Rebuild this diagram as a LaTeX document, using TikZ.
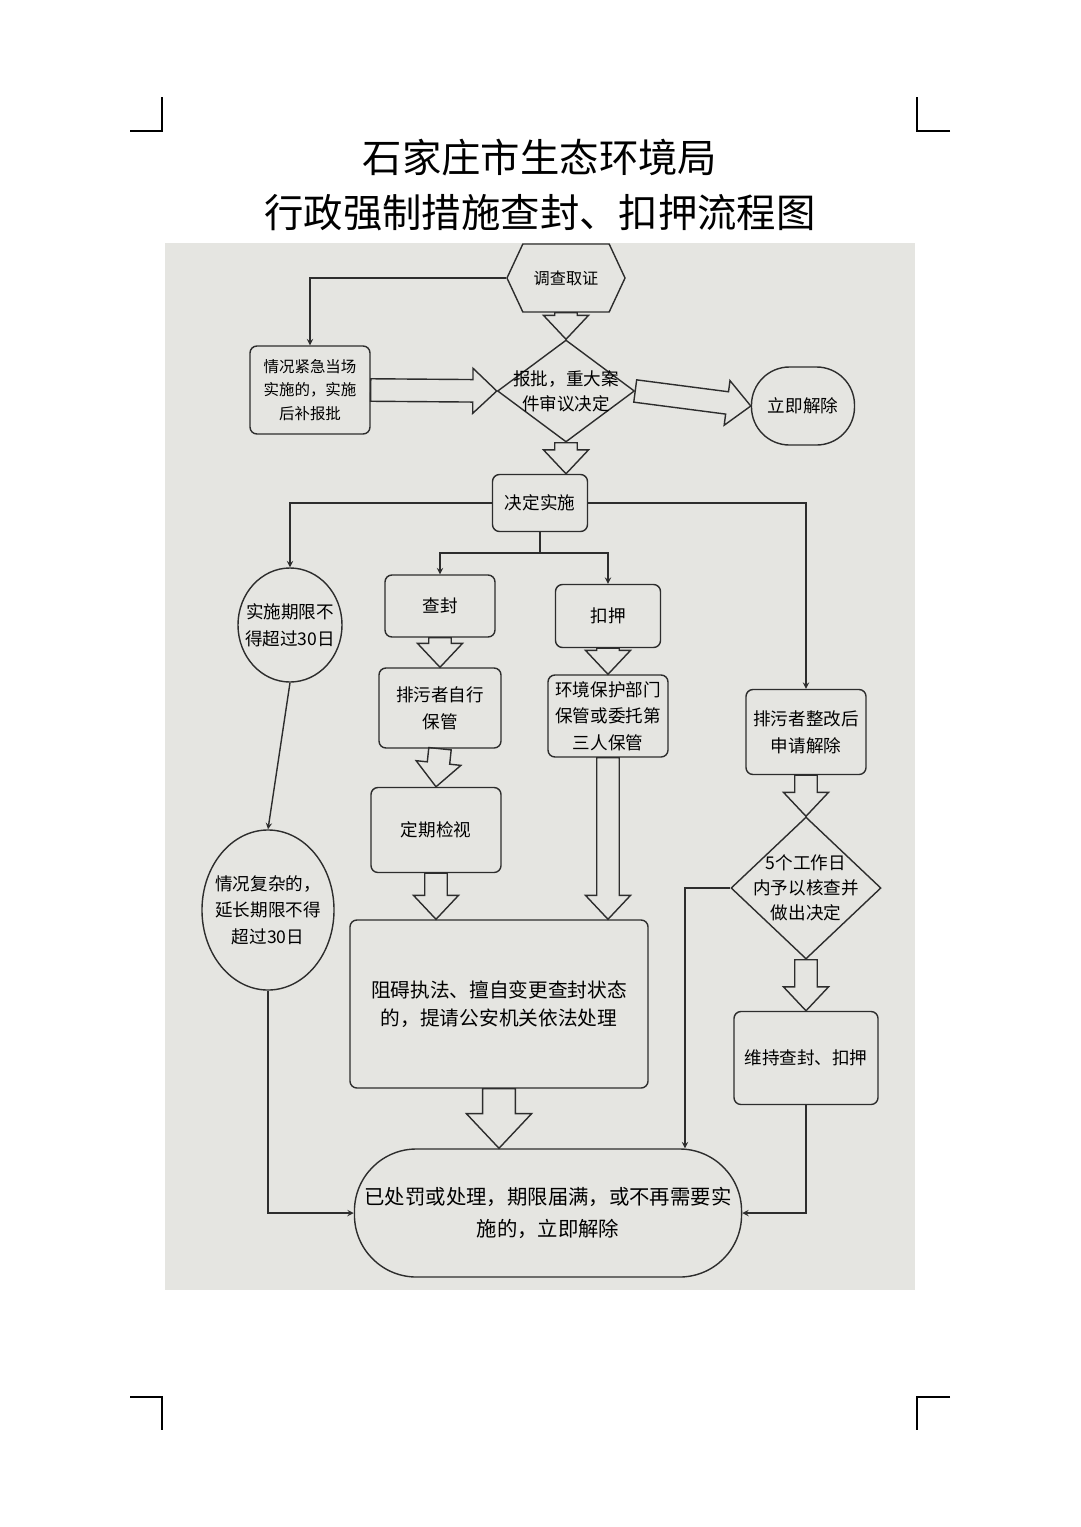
\documentclass[tikz,border=0pt]{standalone}
\usepackage{fontspec}
\setmainfont{Noto Sans CJK SC}
\usetikzlibrary{positioning,calc,shapes.geometric,shapes.symbols}
\definecolor{photo}{RGB}{229,229,225}
\definecolor{ink}{RGB}{45,45,45}
\tikzset{%
    heading/.style={
      font=\fontsize{28}{32}\selectfont
    },
    box/.style={
      rectangle,
      rounded corners=5pt,
      draw=ink,
      line width=1pt,
      align=center,
      font=\fontsize{12.5}{19}\selectfont
    },
    terminal/.style={
      rectangle,
      draw=ink,
      line width=1pt,
      align=center,
      inner xsep=2pt,
      font=\fontsize{12.5}{19}\selectfont
    },
    decision/.style={
      diamond,
      draw=ink,
      line width=1pt,
      align=center,
      inner sep=-12pt,
      font=\fontsize{12.5}{18}\selectfont
    },
    period/.style={
      ellipse,
      draw=ink,
      line width=1pt,
      align=center,
      inner xsep=-6pt,
      inner ysep=0pt,
      font=\fontsize{12.5}{19}\selectfont
    },
    hexbox/.style={
      signal,
      signal to=west and east,
      signal pointer angle=130,
      draw=ink,
      line width=1pt,
      font=\fontsize{11.5}{16}\selectfont
    },
    link/.style={->, draw=ink, line width=1pt},
    hollow arrow/.style={draw=ink, line width=1pt, line join=miter},
    cropmark/.style={line width=0.8pt}
  }
% open block arrow from #2 to #3, #1 scales its width
\newcommand{\hollowarrow}[3][1]{%
  \coordinate (hbase) at ($(#3)!{17pt*#1}!(#2)$);
  \draw [hollow arrow] ($(#2)!{8pt*#1}!90:(#3)$) -- ($(hbase)!{8pt*#1}!90:(#3)$)
    -- ($(hbase)!{16pt*#1}!90:(#3)$) -- (#3) -- ($(hbase)!{16pt*#1}!-90:(#3)$)
    -- ($(hbase)!{8pt*#1}!-90:(#3)$) -- ($(#2)!{8pt*#1}!-90:(#3)$) -- cycle;}

\begin{document}
\begin{tikzpicture}[x=0.025cm, y=-0.025cm, >=stealth]
      \useasboundingbox (0,0) rectangle (1080,1527);
      \fill [white] (0,0) rectangle (1080,1527);
      \fill [photo] (165,243) rectangle (915,1290);

      % crop marks
      \draw [cropmark] (130,131) -- (162,131) -- (162,97);
      \draw [cropmark] (950,131) -- (917,131) -- (917,97);
      \draw [cropmark] (130,1397) -- (162,1397) -- (162,1430);
      \draw [cropmark] (950,1397) -- (917,1397) -- (917,1430);

      \node [heading] (title1) at (540,158) {石家庄市生态环境局};
      \node [heading] (title2) at (540,213) {行政强制措施查封、扣押流程图};

      \node [hexbox, minimum width=2.95cm, minimum height=1.7cm] (inv) at (566,278) {调查取证};
      \node [box, minimum width=3cm, minimum height=2.2cm, font=\fontsize{11}{16.5}\selectfont] (urgent) at (310,390) {情况紧急当场\\实施的，实施\\后补报批};
      \node [decision, minimum width=3.425cm, minimum height=2.55cm] (approve) at (566,391) {报批，重大案\\件审议决定};
      \node [terminal, rounded corners=0.95cm, minimum width=2.575cm, minimum height=1.95cm] (release) at (803,406) {立即解除};
      \node [box, minimum width=2.375cm, minimum height=1.425cm] (decide) at (540,503) {决定实施};

      \node [period, minimum width=2.6cm, minimum height=2.85cm] (limit) at (290,625) {实施期限不\\得超过30日};
      \node [box, minimum width=2.75cm, minimum height=1.55cm] (seal) at (440,606) {查封};
      \node [box, minimum width=2.625cm, minimum height=1.575cm] (detain) at (608,616) {扣押};

      \node [box, minimum width=3.05cm, minimum height=2cm] (self) at (440,708) {排污者自行\\保管};
      \node [box, minimum width=3cm, minimum height=2.05cm] (entrust) at (608,716) {环境保护部门\\保管或委托第\\三人保管};
      \node [box, minimum width=3cm, minimum height=2.125cm] (request) at (806,732) {排污者整改后\\申请解除};
      \node [box, minimum width=3.25cm, minimum height=2.125cm] (inspect) at (436,830) {定期检视};

      \node [period, minimum width=3.3cm, minimum height=4cm] (extend) at (268,910) {情况复杂的，\\延长期限不得\\超过30日};
      \node [decision, minimum width=3.75cm, minimum height=3.55cm] (check) at (806,888) {5个工作日\\内予以核查并\\做出决定};

      \node [box, minimum width=7.45cm, minimum height=4.2cm, font=\fontsize{14}{20}\selectfont] (obstruct) at (499,1004) {阻碍执法、擅自变更查封状态\\的，提请公安机关依法处理};
      \node [box, minimum width=3.6cm, minimum height=2.325cm] (maintain) at (806,1058) {维持查封、扣押};

      \node [terminal, rounded corners=1.55cm, minimum width=9.675cm, minimum height=3.2cm, font=\fontsize{14.5}{23}\selectfont] (final) at (548,1213) {已处罚或处理，期限届满，或不再需要实\\施的，立即解除};

      \coordinate (split) at (540,553);
      \coordinate (bend) at (685,888);

      \draw [link] (inv.west) -| (urgent.north);
      \draw [link] (decide.west) -| (limit.north);
      \draw [link] (decide.east) -| (request.north);
      \draw [draw=ink, line width=1pt] (decide.south) -- (split);
      \draw [link] (split) -| (seal.north);
      \draw [link] (split) -| (detain.north);
      \draw [link] (limit.south) -- (extend.north);
      \draw [link] (extend.south) |- (final.west);
      \draw [link] (check.west) -- (bend) -- (bend |- final.north);
      \draw [link] (maintain.south) |- (final.east);

      \hollowarrow{inv.south}{approve.north}
      \hollowarrow{urgent.east}{approve.west}
      \hollowarrow{approve.east}{release.west}
      \hollowarrow{approve.south}{approve.south |- decide.north}
      \hollowarrow{seal.south}{self.north}
      \hollowarrow{detain.south}{entrust.north}
      \hollowarrow{self.south}{inspect.north}
      \hollowarrow{inspect.south}{inspect.south |- obstruct.north}
      \hollowarrow{entrust.south}{entrust.south |- obstruct.north}
      \hollowarrow{request.south}{check.north}
      \hollowarrow{check.south}{maintain.north}
      \hollowarrow[1.45]{obstruct.south}{obstruct.south |- final.north}

    \end{tikzpicture}
\end{document}
